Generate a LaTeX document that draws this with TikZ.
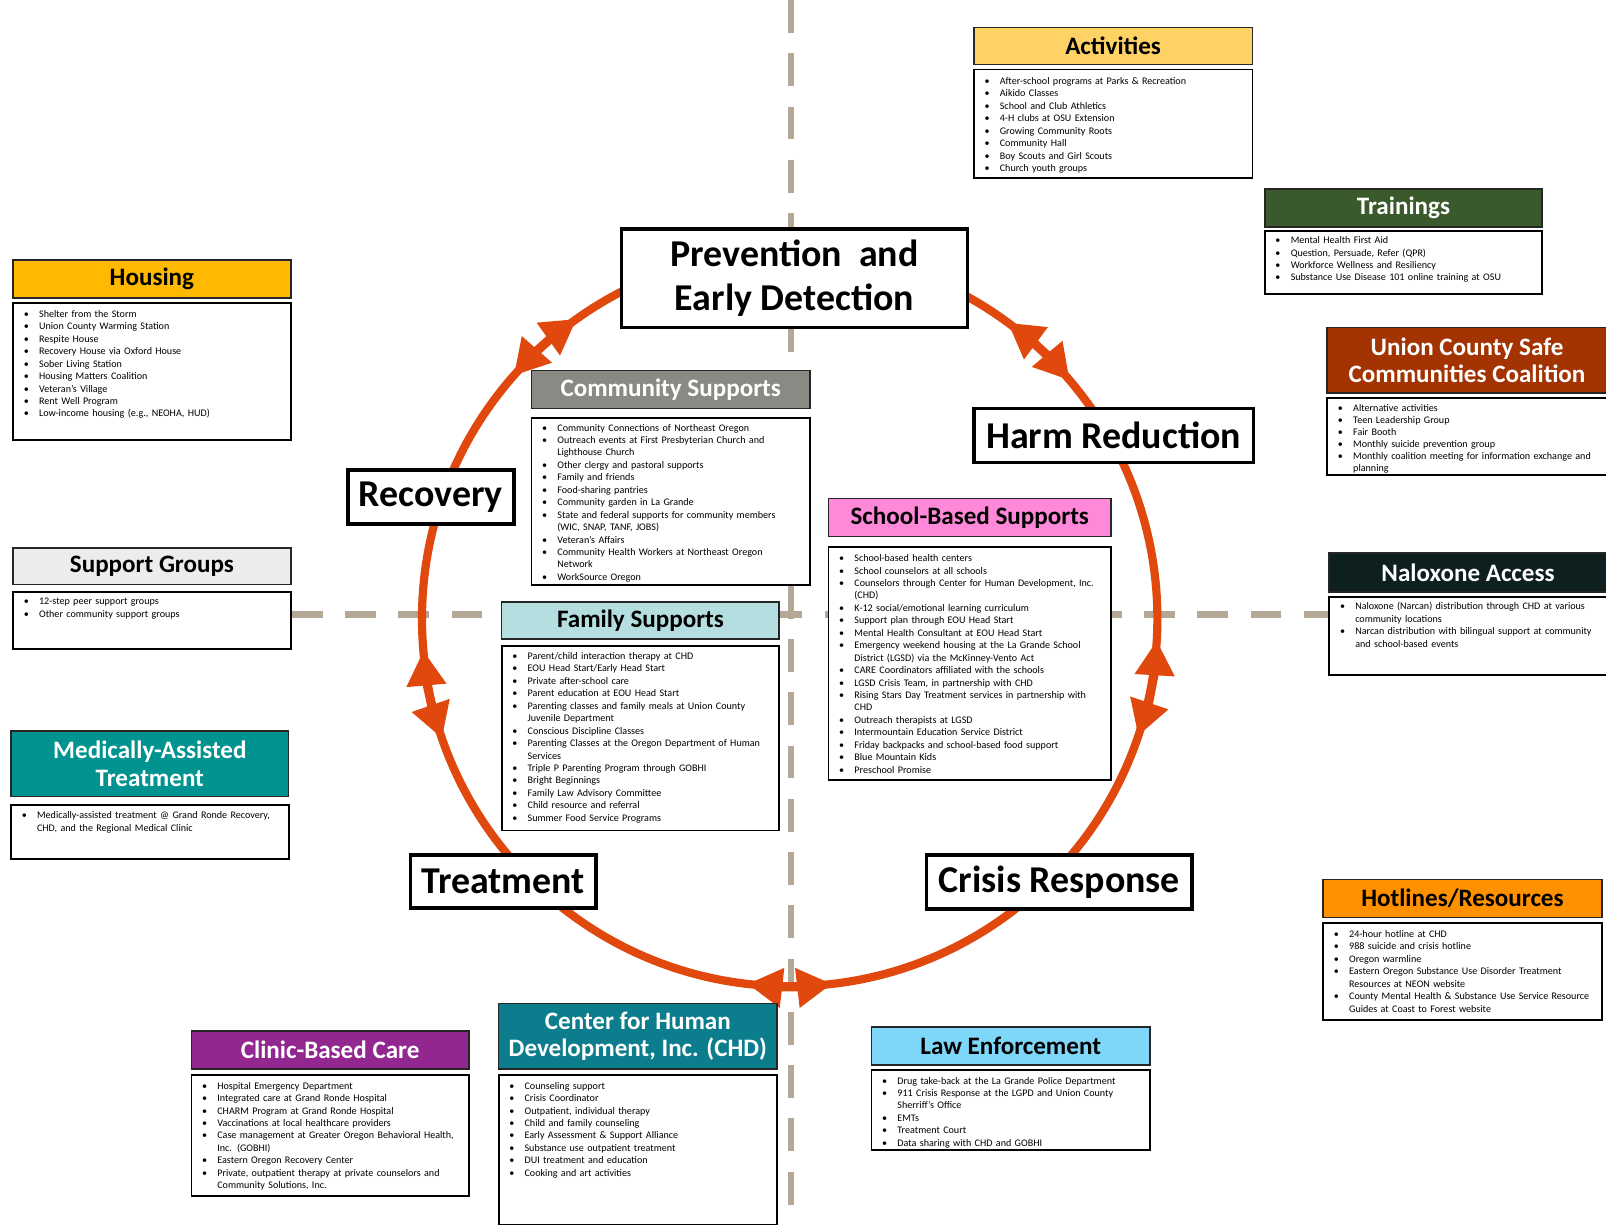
\documentclass[tikz,border=0pt]{standalone}
\usepackage{fontspec}
\setmainfont{Carlito}
\usetikzlibrary{arrows.meta}
\definecolor{cAct}{HTML}{FFD266}
\definecolor{cTrain}{HTML}{3A5A2B}
\definecolor{cHouse}{HTML}{FFB900}
\definecolor{cCoal}{HTML}{A33300}
\definecolor{cComm}{HTML}{8A8A84}
\definecolor{cSupp}{HTML}{ECECEC}
\definecolor{cNal}{HTML}{0E1F20}
\definecolor{cSchool}{HTML}{FF88D9}
\definecolor{cFam}{HTML}{B4DEDF}
\definecolor{cMed}{HTML}{00938F}
\definecolor{cHot}{HTML}{FF9100}
\definecolor{cClin}{HTML}{92288F}
\definecolor{cCHD}{HTML}{0B7D8C}
\definecolor{cLaw}{HTML}{7ED6F9}
\definecolor{cCirc}{HTML}{E0480E}
\definecolor{cDash}{HTML}{B6A897}
\newcommand{\itm}[1]{\par\noindent\llap{\textbullet\hspace{10pt}}#1}
\tikzset{
  hdr/.style={draw=black!85, line width=1.6pt, anchor=north west, inner sep=0pt, align=center,
    font=\bfseries\fontsize{24.5}{27}\selectfont},
  cbox/.style={draw=black, line width=1.8pt, fill=white, anchor=north west, inner sep=0pt},
  ctext/.style={anchor=north west, inner sep=0pt, align=left, font=\fontsize{9.85}{12.15}\selectfont},
  catbox/.style={draw=black, line width=3.5pt, fill=white, anchor=north west, inner sep=0pt, align=center,
    font=\bfseries\fontsize{37}{43}\selectfont},
  axis/.style={draw=cDash, line width=6pt},
  ring/.style={draw=cCirc, line width=8pt},
  ringarr/.style={draw=cCirc, line width=8pt, {Triangle[length=34pt,width=37pt]}-{Triangle[length=34pt,width=37pt]}},
}
\begin{document}
\begin{tikzpicture}[x=1pt,y=-1pt]
\useasboundingbox (0,0) rectangle (1568,1196);
% axes
\coordinate (vt) at (772,0);
\coordinate (vb) at (772,1196);
\coordinate (hl) at (285,600);
\coordinate (hr) at (1297,600);
\draw[axis, dash pattern=on 32pt off 20pt] (vt) -- (vb);
\draw[axis, dash pattern=on 30pt off 22pt] (hl) -- (hr);
% ring
\coordinate (ctr) at (771,604);
\draw[ring] (ctr) circle[radius=359];
\foreach \a/\b in {-138.6/-125.4, -53.6/-40.4, 161/175, 3.4/18.6, 83.4/96.6}
  \draw[ringarr] (ctr) ++(\a:359) arc[start angle=\a, end angle=\b, radius=359];
% category boxes
\node[catbox, minimum width=338pt, minimum height=96pt] (prev) at (605,222) {Prevention\ \ and\\Early Detection};
\node[catbox, minimum width=273pt, minimum height=53pt] (harm) at (949,397) {Harm Reduction};
\node[catbox, minimum width=162pt, minimum height=53pt] (reco) at (338,457) {Recovery};
\node[catbox, minimum width=181pt, minimum height=52pt] (treat) at (399,833) {Treatment};
\node[catbox, minimum width=259pt, minimum height=53pt] (crisis) at (903,833) {Crisis Response};
% Activities
\node[hdr, fill=cAct, minimum width=272pt, minimum height=36pt] (actH) at (950,26) {Activities};
\node[cbox, minimum width=272pt, minimum height=106pt] (actB) at (950,67) {};
\node[ctext, text width=240pt] (actT) at ([xshift=26pt,yshift=-3pt]actB.north west) {%
\itm{After-school programs at Parks \& Recreation}\itm{Aikido Classes}\itm{School and Club Athletics}%
\itm{4-H clubs at OSU Extension}\itm{Growing Community Roots}\itm{Community Hall}%
\itm{Boy Scouts and Girl Scouts}\itm{Church youth groups}};
% Trainings
\node[hdr, fill=cTrain, text=white, minimum width=271pt, minimum height=37pt] (trH) at (1234,184) {Trainings};
\node[cbox, minimum width=271pt, minimum height=61pt] (trB) at (1234,225) {};
\node[ctext, text width=240pt] (trT) at ([xshift=26pt,yshift=-0.5pt]trB.north west) {%
\itm{Mental Health First Aid}\itm{Question, Persuade, Refer (QPR)}\itm{Workforce Wellness and Resiliency}%
\itm{Substance Use Disease 101 online training at OSU}};
% Housing
\node[hdr, fill=cHouse, minimum width=271pt, minimum height=37pt] (hoH) at (12,253) {Housing};
\node[cbox, minimum width=271pt, minimum height=134pt] (hoB) at (12,295) {};
\node[ctext, text width=240pt] (hoT) at ([xshift=26pt,yshift=-2.5pt]hoB.north west) {%
\itm{Shelter from the Storm}\itm{Union County Warming Station}\itm{Respite House}%
\itm{Recovery House via Oxford House}\itm{Sober Living Station}\itm{Housing Matters Coalition}%
\itm{Veteran’s Village}\itm{Rent Well Program}\itm{Low-income housing (e.g., NEOHA, HUD)}};
% Coalition
\node[hdr, fill=cCoal, text=white, minimum width=273pt, minimum height=64pt] (coH) at (1295,319) {Union County Safe\\Communities Coalition};
\node[cbox, minimum width=273pt, minimum height=75pt] (coB) at (1295,388) {};
\node[ctext, text width=245pt, font=\fontsize{9.85}{11.8}\selectfont] (coT) at ([xshift=26pt,yshift=-1.5pt]coB.north west) {%
\itm{Alternative activities}\itm{Teen Leadership Group}\itm{Fair Booth}%
\itm{Monthly suicide prevention group}\itm{Monthly coalition meeting for information exchange and\newline planning}};
% Community Supports
\node[hdr, fill=cComm, text=white, minimum width=272pt, minimum height=37pt] (csH) at (518,361) {Community Supports};
\node[cbox, minimum width=272pt, minimum height=163pt] (csB) at (518,407) {};
\node[ctext, text width=240pt] (csT) at ([xshift=26pt,yshift=-1.5pt]csB.north west) {%
\itm{Community Connections of Northeast Oregon}%
\itm{Outreach events at First Presbyterian Church and\newline Lighthouse Church}%
\itm{Other clergy and pastoral supports}\itm{Family and friends}\itm{Food-sharing pantries}%
\itm{Community garden in La Grande}%
\itm{State and federal supports for community members\newline (WIC, SNAP, TANF, JOBS)}%
\itm{Veteran’s Affairs}%
\itm{Community Health Workers at Northeast Oregon\newline Network}%
\itm{WorkSource Oregon}};
% Support Groups
\node[hdr, fill=cSupp, minimum width=271pt, minimum height=36pt] (sgH) at (12,534) {Support Groups};
\node[cbox, minimum width=271pt, minimum height=56pt] (sgB) at (12,577) {};
\node[ctext, text width=240pt] (sgT) at ([xshift=26pt,yshift=-1pt]sgB.north west) {%
\itm{12-step peer support groups}\itm{Other community support groups}};
% Naloxone
\node[hdr, fill=cNal, text=white, minimum width=271pt, minimum height=38pt] (naH) at (1297,539) {Naloxone Access};
\node[cbox, minimum width=271pt, minimum height=76pt] (naB) at (1297,582) {};
\node[ctext, text width=245pt] (naT) at ([xshift=26pt,yshift=-1pt]naB.north west) {%
\itm{Naloxone (Narcan) distribution through CHD at various\newline community locations}%
\itm{Narcan distribution with bilingual support at community\newline and school-based events}};
% School-Based Supports
\node[hdr, fill=cSchool, minimum width=276pt, minimum height=37pt] (sbH) at (808,486) {School-Based Supports};
\node[cbox, minimum width=276pt, minimum height=228pt] (sbB) at (808,533) {};
\node[ctext, text width=250pt] (sbT) at ([xshift=26pt,yshift=-3pt]sbB.north west) {%
\itm{School-based health centers}\itm{School counselors at all schools}%
\itm{Counselors through Center for Human Development, Inc.\newline (CHD)}%
\itm{K-12 social/emotional learning curriculum}\itm{Support plan through EOU Head Start}%
\itm{Mental Health Consultant at EOU Head Start}%
\itm{Emergency weekend housing at the La Grande School\newline District (LGSD) via the McKinney-Vento Act}%
\itm{CARE Coordinators affiliated with the schools}\itm{LGSD Crisis Team, in partnership with CHD}%
\itm{Rising Stars Day Treatment services in partnership with\newline CHD}%
\itm{Outreach therapists at LGSD}\itm{Intermountain Education Service District}%
\itm{Friday backpacks and school-based food support}\itm{Blue Mountain Kids}\itm{Preschool Promise}};
% Family Supports
\node[hdr, fill=cFam, minimum width=271pt, minimum height=36pt] (fsH) at (489,587) {Family Supports};
\node[cbox, minimum width=271pt, minimum height=180pt] (fsB) at (489,630) {};
\node[ctext, text width=240pt] (fsT) at ([xshift=26pt,yshift=-1.5pt]fsB.north west) {%
\itm{Parent/child interaction therapy at CHD}\itm{EOU Head Start/Early Head Start}%
\itm{Private after-school care}\itm{Parent education at EOU Head Start}%
\itm{Parenting classes and family meals at Union County\newline Juvenile Department}%
\itm{Conscious Discipline Classes}%
\itm{Parenting Classes at the Oregon Department of Human\newline Services}%
\itm{Triple P Parenting Program through GOBHI}\itm{Bright Beginnings}%
\itm{Family Law Advisory Committee}\itm{Child resource and referral}\itm{Summer Food Service Programs}};
% Medically-Assisted Treatment
\node[hdr, fill=cMed, text=white, minimum width=271pt, minimum height=64pt] (maH) at (10,713) {Medically-Assisted\\Treatment};
\node[cbox, minimum width=271pt, minimum height=53pt] (maB) at (10,785) {};
\node[ctext, text width=245pt] (maT) at ([xshift=26pt,yshift=-2pt]maB.north west) {%
\itm{Medically-assisted treatment @ Grand Ronde Recovery,\newline CHD, and the Regional Medical Clinic}};
% Hotlines
\node[hdr, fill=cHot, minimum width=272pt, minimum height=37pt] (hlH) at (1291,858) {Hotlines/Resources};
\node[cbox, minimum width=272pt, minimum height=95pt] (hlB) at (1291,900) {};
\node[ctext, text width=245pt] (hlT) at ([xshift=26pt,yshift=-3pt]hlB.north west) {%
\itm{24-hour hotline at CHD}\itm{988 suicide and crisis hotline}\itm{Oregon warmline}%
\itm{Eastern Oregon Substance Use Disorder Treatment\newline Resources at NEON website}%
\itm{County Mental Health \& Substance Use Service Resource\newline Guides at Coast to Forest website}};
% Clinic-Based Care
\node[hdr, fill=cClin, text=white, minimum width=271pt, minimum height=37pt] (clH) at (186,1006) {Clinic-Based Care};
\node[cbox, minimum width=271pt, minimum height=118pt] (clB) at (186,1049) {};
\node[ctext, text width=245pt] (clT) at ([xshift=26pt,yshift=-2pt]clB.north west) {%
\itm{Hospital Emergency Department}\itm{Integrated care at Grand Ronde Hospital}%
\itm{CHARM Program at Grand Ronde Hospital}\itm{Vaccinations at local healthcare providers}%
\itm{Case management at Greater Oregon Behavioral Health,\newline Inc. (GOBHI)}%
\itm{Eastern Oregon Recovery Center}%
\itm{Private, outpatient therapy at private counselors and\newline Community Solutions, Inc.}};
% CHD
\node[hdr, fill=cCHD, text=white, minimum width=272pt, minimum height=64pt] (chH) at (486,979) {Center for Human\\Development, Inc. (CHD)};
\node[cbox, minimum width=272pt, minimum height=146pt] (chB) at (486,1049) {};
\node[ctext, text width=245pt] (chT) at ([xshift=26pt,yshift=-2pt]chB.north west) {%
\itm{Counseling support}\itm{Crisis Coordinator}\itm{Outpatient, individual therapy}%
\itm{Child and family counseling}\itm{Early Assessment \& Support Alliance}%
\itm{Substance use outpatient treatment}\itm{DUI treatment and education}\itm{Cooking and art activities}};
% Law Enforcement
\node[hdr, fill=cLaw, minimum width=272pt, minimum height=37pt] (leH) at (850,1002) {Law Enforcement};
\node[cbox, minimum width=272pt, minimum height=78pt] (leB) at (850,1044) {};
\node[ctext, text width=245pt] (leT) at ([xshift=26pt,yshift=-2pt]leB.north west) {%
\itm{Drug take-back at the La Grande Police Department}%
\itm{911 Crisis Response at the LGPD and Union County\newline Sherriff’s Office}%
\itm{EMTs}\itm{Treatment Court}\itm{Data sharing with CHD and GOBHI}};
\end{tikzpicture}
\end{document}
